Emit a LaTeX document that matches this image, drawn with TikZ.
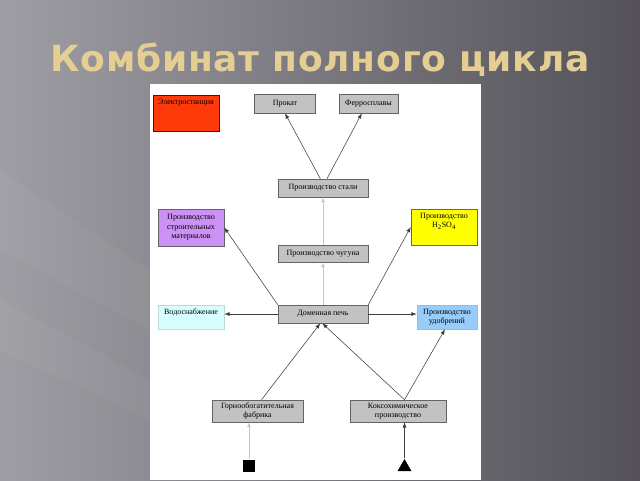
\documentclass[tikz,border=0pt]{standalone}
\usepackage{fontspec}
\setmainfont{Liberation Serif}
\newfontfamily\titlefont[LetterSpace=2]{DejaVu Sans}
\usetikzlibrary{positioning,shapes.geometric,arrows}

\definecolor{bgleft}{RGB}{158,158,164}
\definecolor{bgright}{RGB}{84,82,88}
\definecolor{titlecol}{RGB}{228,206,148}
\definecolor{boxgray}{RGB}{194,194,194}
\definecolor{boxline}{RGB}{100,100,100}
\definecolor{plantred}{RGB}{255,58,10}
\definecolor{plantviolet}{RGB}{204,145,245}
\definecolor{plantyellow}{RGB}{255,255,0}
\definecolor{plantcyan}{RGB}{215,255,255}
\definecolor{plantblue}{RGB}{150,205,250}
\definecolor{arrowcol}{RGB}{60,60,60}

\begin{document}
\begin{tikzpicture}[
      x=0.75pt,y=-0.75pt,
      box/.style={
          draw=boxline,
          fill=boxgray,
          minimum width=67.5pt,
          minimum height=13.5pt,
          inner sep=1pt,
          align=center,
          font=\fontsize{6}{7}\selectfont
        },
      small/.style={
          box,
          minimum width=49.5pt,
          minimum height=27pt
        },
      flow/.style={
          ->,
          draw=arrowcol,
          line width=0.4pt
        },
      faint/.style={
          ->,
          draw=gray!45,
          line width=0.3pt
        },
      >=latex
    ]
    \useasboundingbox (0,0) rectangle (640,480);
    % slide background
    \shade[left color=bgleft,right color=bgright] (0,0) rectangle (640,480);
    \fill[white,opacity=0.035] (0,170) -- (0,250) -- (150,330) -- (150,270) -- cycle;
    \fill[white,opacity=0.03] (0,300) -- (0,350) -- (150,420) -- (150,380) -- cycle;
    \node[anchor=base,text=titlecol,inner sep=0pt] (title) at (320,71)
      {\titlefont\bfseries\fontsize{27}{32}\selectfont Комбинат полного цикла};
    \fill[white] (150,84) rectangle (481,480);

    % boxes
    \node[small,fill=plantred,draw=red!45!black,text height=5pt,text depth=18pt] (elec) at (186,113) {Электростанция};
    \node[box,minimum width=45.75pt,minimum height=14.25pt] (prokat) at (285,103.5) {Прокат};
    \node[box,minimum width=44.25pt,minimum height=14.25pt] (ferro) at (368.5,103.5) {Ферросплавы};
    \node[box] (stal) at (323,188) {Производство стали};
    \node[small,fill=plantviolet,minimum height=27.75pt] (stroy) at (191,227.5) {Производство\\строительных\\материалов};
    \node[small,fill=plantyellow,text depth=10pt] (acid) at (444,227) {Производство\\H\textsubscript{2}SO\textsubscript{4}};
    \node[box,minimum height=12.75pt] (chug) at (323,253.5) {Производство чугуна};
    \node[small,fill=plantcyan,draw=plantcyan!70!gray,minimum height=18pt,text height=5pt,text depth=9pt] (vodo) at (191,317) {Водоснабжение};
    \node[box] (domna) at (323,314) {Доменная печь};
    \node[small,fill=plantblue,draw=plantblue!80!gray,minimum width=45pt,minimum height=18pt] (udobr) at (447,317) {Производство\\удобрений};
    \node[box,minimum width=68.25pt,minimum height=16.5pt] (gorno) at (257.5,411) {Горнообогатительная\\фабрика};
    \node[box,minimum width=72pt,minimum height=16.5pt] (koks) at (398,411) {Коксохимическое\\производство};
    \node[fill=black,minimum size=9pt,inner sep=0pt] (ore) at (249,465.5) {};
    \node[regular polygon,regular polygon sides=3,fill=black,minimum size=12pt,inner sep=0pt] (coal) at (404.5,467) {};

    % connections
    \draw[flow] ([xshift=-2pt]stal.north) -- (prokat.south);
    \draw[flow] ([xshift=3pt]stal.north) -- ([xshift=-5pt]ferro.south);
    \draw[faint] (chug.north) -- (stal.south);
    \draw[faint] (domna.north) -- (chug.south);
    \draw[flow] (domna.north west) -- (stroy.east);
    \draw[flow] (domna.north east) -- (acid.west);
    \draw[flow] (domna.west) -- (domna.west -| vodo.east);
    \draw[flow] (domna.east) -- (domna.east -| udobr.west);
    \coordinate (kokstop) at (coal |- koks.north);
    \draw[flow] ([xshift=3pt]gorno.north) -- ([xshift=-2pt]domna.south);
    \draw[flow] (kokstop) -- ([xshift=-0.5pt]domna.south);
    \draw[flow] (kokstop) -- ([xshift=-1.5pt]udobr.south);
    \draw[faint] (ore.north) -- (ore.north |- gorno.south);
    \draw[flow] (coal.corner 1) -- (coal |- koks.south);
\end{tikzpicture}
\end{document}
